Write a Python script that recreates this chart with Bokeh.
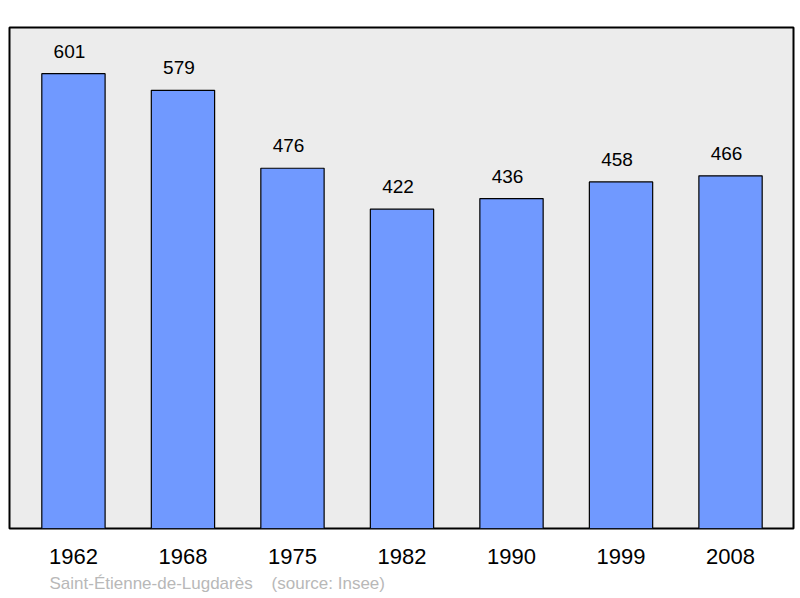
from bokeh.plotting import figure
from bokeh.models import Range1d, FixedTicker, Title, ColumnDataSource
from bokeh.embed import file_html
from bokeh.resources import INLINE
from bokeh.core.properties import value

years = ["1962", "1968", "1975", "1982", "1990", "1999", "2008"]
population = [601, 579, 476, 422, 436, 458, 466]
footer_text = "Saint-Étienne-de-Lugdarès\u00a0\u00a0\u00a0\u00a0(source: Insee)"

xs = list(range(len(years)))
src = ColumnDataSource(dict(x=xs, top=population, lab=[str(v) for v in population]))

p = figure(width=800, height=598, output_backend="svg", toolbar_location=None,
           x_range=Range1d(-0.584, 6.575), y_range=Range1d(0, 662),
           min_border_left=9, min_border_right=7, min_border_top=27, min_border_bottom=70)
p.background_fill_color = "#ececec"
p.border_fill_color = "white"
p.outline_line_color = "black"
p.outline_line_width = 2
p.grid.visible = False
p.yaxis.visible = False

p.vbar(x="x", top="top", width=0.578, bottom=0, source=src,
       fill_color="#7099ff", line_color="black", line_width=1.2)
p.text(x="x", y="top", text="lab", source=src, text_align="center", text_baseline="bottom",
       x_offset=-4, y_offset=-16, text_font_size="19px", text_font=value("Liberation Sans"),
       text_color="black")

ax = p.xaxis[0]
ax.ticker = FixedTicker(ticks=xs)
ax.major_label_overrides = {i: y for i, y in enumerate(years)}
ax.axis_line_color = None
ax.major_tick_line_color = None
ax.minor_tick_line_color = None
ax.major_tick_out = 0
ax.major_label_standoff = 20
ax.major_label_text_font_size = "22px"
ax.major_label_text_font = "Liberation Sans"
ax.major_label_text_color = "black"

t = Title(text=footer_text, align="left", offset=40, text_font_size="17px",
          text_font="Liberation Sans", text_color="#b8b8b8", text_font_style="normal",
          standoff=10)
p.add_layout(t, "below")

open("out.html", "w").write(file_html(p, INLINE))
